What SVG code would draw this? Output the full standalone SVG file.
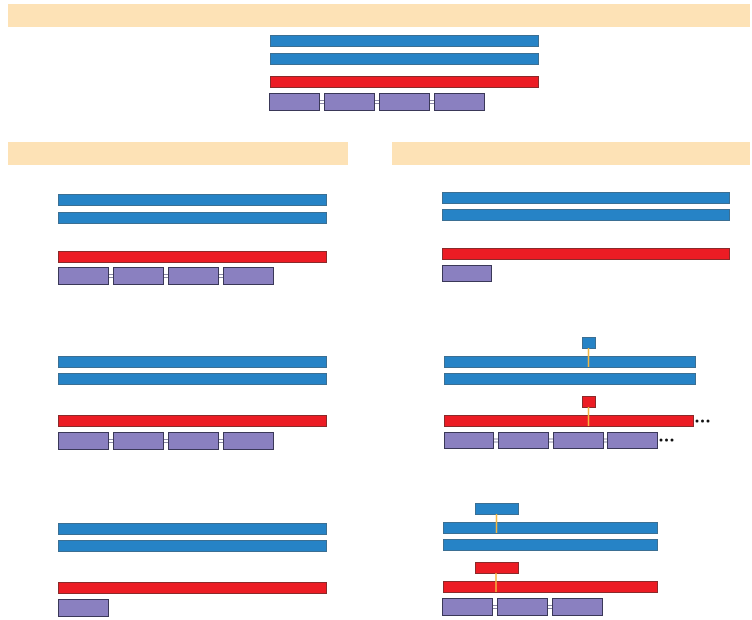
<svg xmlns="http://www.w3.org/2000/svg" width="752" height="620" viewBox="0 0 752 620">
<style>
.banner{fill:#fde2b6}
.b{fill:#2683c6;stroke:#3b6f93;stroke-width:1}
.r{fill:#ec1c24;stroke:#8a2a2a;stroke-width:1}
.p{fill:#8a80c0;stroke:#3a3858;stroke-width:1}
.lk{stroke:#8c89a8;stroke-width:1}
.y{stroke:#f5b640;stroke-width:1.5}
.dot{fill:#111}
</style>
<rect width="752" height="620" fill="#fff"/>
<g id="banners">
<rect id="banner-top" class="banner" x="8" y="4" width="742" height="23"/>
<rect id="banner-left" class="banner" x="8" y="142" width="340" height="23"/>
<rect id="banner-right" class="banner" x="392" y="142" width="358" height="23"/>
</g>
<g id="top">
<rect class="b" x="270.5" y="35.5" width="268" height="11"/>
<rect class="b" x="270.5" y="53.5" width="268" height="11"/>
<rect class="r" x="270.5" y="76.5" width="268" height="11"/>
<rect class="p" x="269.5" y="93.5" width="50" height="17"/>
<rect class="p" x="324.5" y="93.5" width="50" height="17"/>
<rect class="p" x="379.5" y="93.5" width="50" height="17"/>
<rect class="p" x="434.5" y="93.5" width="50" height="17"/>
</g>
<g id="left1">
<rect class="b" x="58.5" y="194.5" width="268" height="11"/>
<rect class="b" x="58.5" y="212.5" width="268" height="11"/>
<rect class="r" x="58.5" y="251.5" width="268" height="11"/>
<rect class="p" x="58.5" y="267.5" width="50" height="17"/>
<rect class="p" x="113.5" y="267.5" width="50" height="17"/>
<rect class="p" x="168.5" y="267.5" width="50" height="17"/>
<rect class="p" x="223.5" y="267.5" width="50" height="17"/>
</g>
<g id="left2">
<rect class="b" x="58.5" y="356.5" width="268" height="11"/>
<rect class="b" x="58.5" y="373.5" width="268" height="11"/>
<rect class="r" x="58.5" y="415.5" width="268" height="11"/>
<rect class="p" x="58.5" y="432.5" width="50" height="17"/>
<rect class="p" x="113.5" y="432.5" width="50" height="17"/>
<rect class="p" x="168.5" y="432.5" width="50" height="17"/>
<rect class="p" x="223.5" y="432.5" width="50" height="17"/>
</g>
<g id="left3">
<rect class="b" x="58.5" y="523.5" width="268" height="11"/>
<rect class="b" x="58.5" y="540.5" width="268" height="11"/>
<rect class="r" x="58.5" y="582.5" width="268" height="11"/>
<rect class="p" x="58.5" y="599.5" width="50" height="17"/>
</g>
<g id="right1">
<rect class="b" x="442.5" y="192.5" width="287" height="11"/>
<rect class="b" x="442.5" y="209.5" width="287" height="11"/>
<rect class="r" x="442.5" y="248.5" width="287" height="11"/>
<rect class="p" x="442.5" y="265.5" width="49" height="16"/>
</g>
<g id="right2">
<rect class="b" x="444.5" y="356.5" width="251" height="11"/>
<rect class="b" x="444.5" y="373.5" width="251" height="11"/>
<rect class="r" x="444.5" y="415.5" width="249" height="11"/>
<rect class="b" x="582.5" y="337.5" width="13" height="11"/>
<rect class="r" x="582.5" y="396.5" width="13" height="11"/>
<rect class="p" x="444.5" y="432.5" width="49" height="16"/>
<rect class="p" x="498.5" y="432.5" width="50" height="16"/>
<rect class="p" x="553.5" y="432.5" width="50" height="16"/>
<rect class="p" x="607.5" y="432.5" width="50" height="16"/>
<circle class="dot" cx="697" cy="421" r="1.5"/>
<circle class="dot" cx="702.5" cy="421" r="1.5"/>
<circle class="dot" cx="708" cy="421" r="1.5"/>
<circle class="dot" cx="661" cy="440" r="1.5"/>
<circle class="dot" cx="666.5" cy="440" r="1.5"/>
<circle class="dot" cx="672" cy="440" r="1.5"/>
</g>
<g id="right3">
<rect class="b" x="443.5" y="522.5" width="214" height="11"/>
<rect class="b" x="443.5" y="539.5" width="214" height="11"/>
<rect class="r" x="443.5" y="581.5" width="214" height="11"/>
<rect class="b" x="475.5" y="503.5" width="43" height="11"/>
<rect class="r" x="475.5" y="562.5" width="43" height="11"/>
<rect class="p" x="442.5" y="598.5" width="50" height="17"/>
<rect class="p" x="497.5" y="598.5" width="50" height="17"/>
<rect class="p" x="552.5" y="598.5" width="50" height="17"/>
</g>
<g id="connectors">
<line class="y" x1="588.5" y1="348" x2="588.5" y2="367"/>
<line class="y" x1="588.5" y1="407" x2="588.5" y2="426"/>
<line class="y" x1="496.5" y1="514" x2="496.5" y2="533"/>
<line class="y" x1="496" y1="573" x2="496" y2="592"/>
<path class="lk" d="M320 100.5H324M320 103.5H324M375 100.5H379M375 103.5H379M430 100.5H434M430 103.5H434"/>
<path class="lk" d="M109 274.5H113M109 277.5H113M164 274.5H168M164 277.5H168M219 274.5H223M219 277.5H223"/>
<path class="lk" d="M109 439.5H113M109 442.5H113M164 439.5H168M164 442.5H168M219 439.5H223M219 442.5H223"/>
<path class="lk" d="M494 439H498M494 442H498M549 439H553M549 442H553M604 439H607M604 442H607"/>
<path class="lk" d="M493 605.5H497M493 608.5H497M548 605.5H552M548 608.5H552"/>
</g>
</svg>
